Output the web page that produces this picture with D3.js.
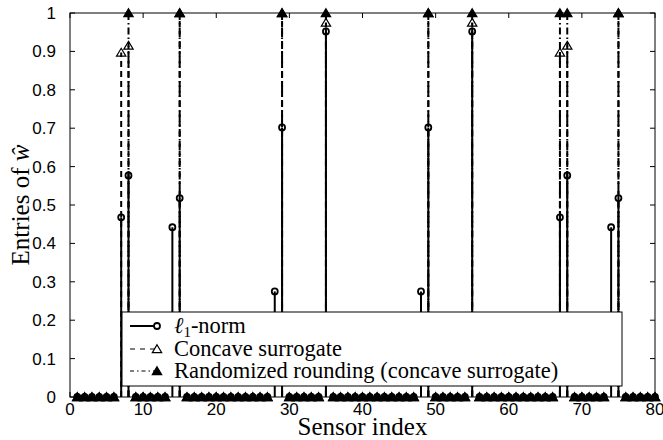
<!DOCTYPE html>
<html>
<head>
<meta charset="utf-8">
<script src="https://cdn.jsdelivr.net/npm/d3@7"></script>
<style>
    body { margin: 0; background: #fff; }
    svg { display: block; }
</style>
</head>
<body>
<div id="chart"></div>
<script>
// sensor indices on the x axis
const sensorCount = 80;
const xTicks = [0, 10, 20, 30, 40, 50, 60, 70, 80];
const yTicks = [0, 0.1, 0.2, 0.3, 0.4, 0.5, 0.6, 0.7, 0.8, 0.9, 1];
const yTickLabels = ['0', '0.1', '0.2', '0.3', '0.4', '0.5', '0.6', '0.7', '0.8', '0.9', '1'];

// nonzero entries of each solution (all other sensors are 0)
const l1Index = [7, 8, 14, 15, 28, 29, 35, 48, 49, 55, 67, 68, 74, 75];
const l1Value = [0.468, 0.577, 0.442, 0.518, 0.275, 0.702, 0.952, 0.275, 0.702, 0.952, 0.468, 0.577, 0.442, 0.518];
const concaveIndex = [7, 8, 15, 29, 35, 49, 55, 67, 68, 75];
const concaveValue = [0.897, 0.915, 1, 1, 0.975, 1, 0.975, 0.897, 0.915, 1];
const roundIndex = [8, 15, 29, 35, 49, 55, 67, 68, 75];
const roundValue = [1, 1, 1, 1, 1, 1, 1, 1, 1];

const legendLabels = ['-norm', 'Concave surrogate', 'Randomized rounding (concave surrogate)'];

document.addEventListener('DOMContentLoaded', () => {
    const width = 663, height = 440;
    const margin = { top: 13, right: 8, bottom: 43, left: 70 };

    const svg = d3.select('#chart').append('svg')
        .attr('width', width)
        .attr('height', height);

    const x = d3.scaleLinear().domain([0, 80]).range([margin.left, width - margin.right]);
    const y = d3.scaleLinear().domain([0, 1]).range([height - margin.bottom, margin.top]);

    function fullSeries(idx, vals) {
        const out = [];
        for (let i = 1; i <= sensorCount; i++) {
            const k = idx.indexOf(i);
            out.push({ i, v: k >= 0 ? vals[k] : 0 });
        }
        return out;
    }
    const l1 = fullSeries(l1Index, l1Value);
    const concave = fullSeries(concaveIndex, concaveValue);
    const rounded = fullSeries(roundIndex, roundValue);

    // sensors where at least one solution is nonzero: no baseline markers there
    const active = new Set([...l1Index, ...concaveIndex, ...roundIndex]);

    const triPath = (s) => `M0,${-s * 0.5}L${s * 0.55},${s * 0.42}L${-s * 0.55},${s * 0.42}Z`;

    const series = [
        { data: l1, dash: null, marker: 'circle' },
        { data: concave, dash: '6,4', marker: 'open' },
        { data: rounded, dash: '7,3,1.5,3', marker: 'filled' }
    ];

    const plot = svg.append('g');

    series.forEach(s => {
        const nz = s.data.filter(d => d.v > 0);
        plot.append('g').selectAll('line')
            .data(nz)
            .join('line')
            .attr('x1', d => x(d.i)).attr('x2', d => x(d.i))
            .attr('y1', y(0)).attr('y2', d => y(d.v))
            .attr('stroke', '#000')
            .attr('stroke-width', 2)
            .attr('stroke-dasharray', s.dash);
    });

    function drawMarkers(g, data, type) {
        if (type === 'circle') {
            g.selectAll('circle').data(data).join('circle')
                .attr('cx', d => x(d.i)).attr('cy', d => y(d.v))
                .attr('r', 3)
                .attr('fill', 'none')
                .attr('stroke', '#000')
                .attr('stroke-width', 1.8);
        } else {
            g.selectAll('path').data(data).join('path')
                .attr('transform', d => `translate(${x(d.i)},${y(d.v)})`)
                .attr('d', triPath(8.5))
                .attr('fill', type === 'filled' ? '#000' : 'none')
                .attr('stroke', '#000')
                .attr('stroke-width', 1.2);
        }
    }

    series.forEach(s => {
        const pts = s.data.filter(d => d.v > 0 || !active.has(d.i));
        drawMarkers(plot.append('g'), pts, s.marker);
    });

    // axes box
    const x0 = x(0), x1 = x(80), y0 = y(0), y1 = y(1);
    svg.append('rect')
        .attr('x', x0).attr('y', y1)
        .attr('width', x1 - x0).attr('height', y0 - y1)
        .attr('fill', 'none').attr('stroke', '#000').attr('stroke-width', 1);

    const tickLen = 5;
    const ticks = svg.append('g').attr('stroke', '#000').attr('stroke-width', 1);
    xTicks.forEach(t => {
        ticks.append('line').attr('x1', x(t)).attr('x2', x(t)).attr('y1', y0).attr('y2', y0 - tickLen);
        ticks.append('line').attr('x1', x(t)).attr('x2', x(t)).attr('y1', y1).attr('y2', y1 + tickLen);
    });
    yTicks.forEach(t => {
        ticks.append('line').attr('x1', x0).attr('x2', x0 + tickLen).attr('y1', y(t)).attr('y2', y(t));
        ticks.append('line').attr('x1', x1).attr('x2', x1 - tickLen).attr('y1', y(t)).attr('y2', y(t));
    });

    const tickFont = '"Liberation Sans", Arial, sans-serif';
    svg.append('g').selectAll('text').data(xTicks).join('text')
        .attr('x', d => x(d)).attr('y', y0 + 18)
        .attr('text-anchor', 'middle')
        .attr('font-family', tickFont).attr('font-size', 17)
        .text(d => d);

    svg.append('g').selectAll('text').data(yTicks).join('text')
        .attr('x', x0 - 14).attr('y', d => y(d) + 6)
        .attr('text-anchor', 'end')
        .attr('font-family', tickFont).attr('font-size', 17)
        .text((d, i) => yTickLabels[i]);

    const serif = '"Liberation Serif", "Times New Roman", serif';
    svg.append('text')
        .attr('x', (x0 + x1) / 2).attr('y', 435)
        .attr('text-anchor', 'middle')
        .attr('font-family', serif).attr('font-size', 25)
        .text('Sensor index');

    const ylab = svg.append('text')
        .attr('transform', `translate(29,${(y0 + y1) / 2}) rotate(-90)`)
        .attr('text-anchor', 'middle')
        .attr('font-family', serif).attr('font-size', 25);
    ylab.append('tspan').text('Entries of ');
    ylab.append('tspan').attr('font-style', 'italic').text('ŵ');

    // legend
    const lg = svg.append('g');
    lg.append('rect')
        .attr('x', 122).attr('y', 312).attr('width', 500).attr('height', 74)
        .attr('fill', '#fff').attr('stroke', '#000').attr('stroke-width', 1);
    const rowY = [326, 349, 371];
    series.forEach((s, i) => {
        lg.append('line')
            .attr('x1', 130).attr('x2', 157)
            .attr('y1', rowY[i]).attr('y2', rowY[i])
            .attr('stroke', '#000').attr('stroke-width', i === 0 ? 2 : 1)
            .attr('stroke-dasharray', i === 0 ? null : (i === 1 ? '5,5' : '4,3,1.5,3'));
        const mg = lg.append('g');
        if (s.marker === 'circle') {
            mg.append('circle').attr('cx', 157).attr('cy', rowY[i]).attr('r', 3)
                .attr('fill', '#fff').attr('stroke', '#000').attr('stroke-width', 1.8);
        } else {
            mg.append('path').attr('transform', `translate(157,${rowY[i]})`)
                .attr('d', triPath(8.5))
                .attr('fill', s.marker === 'filled' ? '#000' : '#fff')
                .attr('stroke', '#000').attr('stroke-width', 1.2);
        }
        const t = lg.append('text')
            .attr('x', 174).attr('y', rowY[i] + 7)
            .attr('font-family', serif).attr('font-size', 22.5);
        if (i === 0) {
            t.append('tspan').attr('font-style', 'italic').text('ℓ');
            t.append('tspan').attr('font-size', 15).attr('dy', 4).text('1');
            t.append('tspan').attr('dy', -4).text(legendLabels[0]);
        } else {
            t.text(legendLabels[i]);
        }
    });
});
</script>
</body>
</html>
